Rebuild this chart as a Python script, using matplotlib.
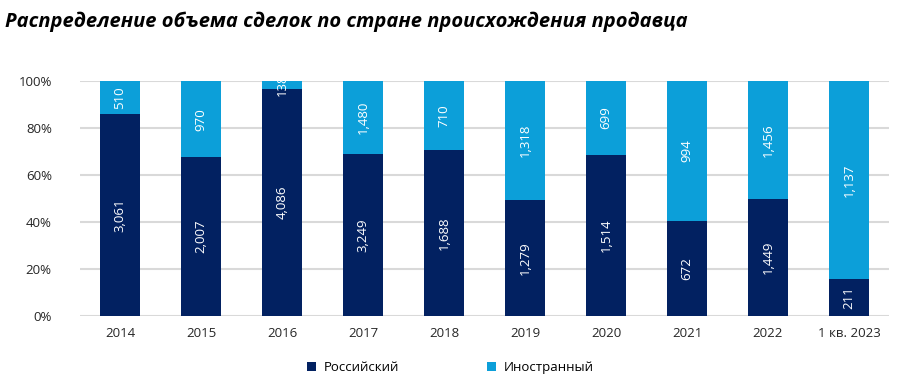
import matplotlib
matplotlib.use("Agg")
import matplotlib.pyplot as plt
from matplotlib.ticker import PercentFormatter

categories = ["2014", "2015", "2016", "2017", "2018", "2019", "2020", "2021", "2022", "1 кв. 2023"]
russian = [3061, 2007, 4086, 3249, 1688, 1279, 1514, 672, 1449, 211]
foreign = [510, 970, 138, 1480, 710, 1318, 699, 994, 1456, 1137]

plt.rcParams['font.family'] = ['Open Sans', 'DejaVu Sans']
dark = '#022161'
light = '#0C9FD9'

fig = plt.figure(figsize=(9.08, 3.89), dpi=100)
ax = fig.add_axes([0.0876, 0.188, 0.892, 0.604])

tot = [r + f for r, f in zip(russian, foreign)]
rp = [r / t * 100 for r, t in zip(russian, tot)]
fp = [f / t * 100 for f, t in zip(foreign, tot)]
x = list(range(len(categories)))
w = 0.49
ax.bar(x, rp, w, color=dark, label='Российский', zorder=3)
ax.bar(x, fp, w, bottom=rp, color=light, label='Иностранный', zorder=3)

for i in x:
    ax.text(i, rp[i] / 2, f"{russian[i]:,}", rotation=90, ha='center', va='center',
            color='white', fontsize=9.5, zorder=4)
    ax.text(i, rp[i] + fp[i] / 2, f"{foreign[i]:,}", rotation=90, ha='center', va='center',
            color='white', fontsize=9.5, zorder=4)

ax.set_ylim(0, 100)
ax.set_xlim(-0.5, len(categories) - 0.5)
ax.set_yticks([0, 20, 40, 60, 80, 100])
ax.yaxis.set_major_formatter(PercentFormatter(decimals=0))
ax.set_xticks(x)
ax.set_xticklabels(categories)
ax.tick_params(length=0, labelsize=9.5, labelcolor='#262626')
ax.tick_params(axis='x', pad=8)
ax.tick_params(axis='y', pad=20)
ax.grid(axis='y', color='#D9D9D9', linewidth=1.5, zorder=0)
for s in ax.spines.values():
    s.set_visible(False)

fig.text(0.006, 0.945, 'Распределение объема сделок по стране происхождения продавца',
         fontsize=14.5, fontweight='bold', fontstyle='italic', ha='left', va='center', color='black')

fig.legend(loc='center', bbox_to_anchor=(0.496, 0.055), ncol=2, frameon=False,
           fontsize=9.5, handlelength=0.7, handleheight=0.7, columnspacing=6.6, handletextpad=0.6)

fig.savefig('out.png', dpi=100)
